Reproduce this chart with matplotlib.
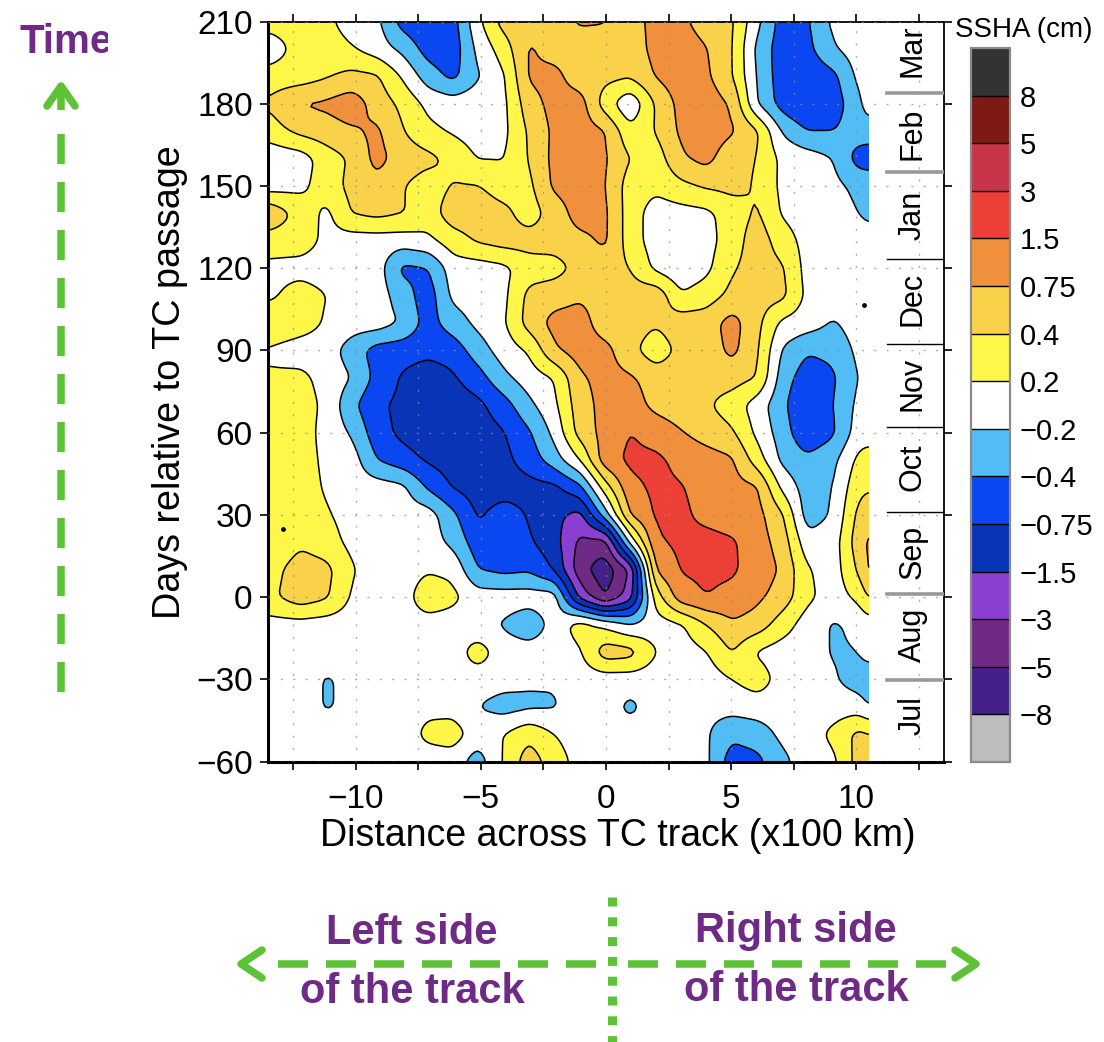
import numpy as np
import matplotlib
matplotlib.use("Agg")
import matplotlib.pyplot as plt
from matplotlib.lines import Line2D
from matplotlib.transforms import Bbox

plt.rcParams['font.family'] = ['Liberation Sans', 'DejaVu Sans']

W, H = 1104, 1042

levels = [-8, -5, -3, -1.5, -0.75, -0.4, -0.2, 0.2, 0.4, 0.75, 1.5, 3, 5, 8]
level_labels = ['\u22128', '\u22125', '\u22123', '\u22121.5', '\u22120.75', '\u22120.4', '\u22120.2',
                '0.2', '0.4', '0.75', '1.5', '3', '5', '8']
colors = ['#BDBDBD', '#44208A', '#6F2A85', '#8A3FD0', '#0A34B8', '#0A47F0', '#52BCF5', '#FFFFFF',
          '#FFF64A', '#FAD24A', '#F08F3C', '#EC3F35', '#C8344A', '#7E1A14', '#333333']

dist = [-13.5, -12.2, -11.16, -10.16, -9.16, -8.12, -7.12, -6.12, -5.12, -4.08, -3.08, -2.08, -1.04,
        -0.04, 0.96, 2, 3, 4, 5.04, 6.04, 7.04, 8.04, 9.08, 10.08, 10.5]
days = [210, 200, 190, 180, 170, 160, 150, 140, 130, 120, 110, 100, 90, 80, 70, 60, 50, 40, 30, 20, 10,
        0, -10, -20, -30, -40, -50, -60]

ssha = [
    [.3, .3, .25, 0, -.1, -.55, -.7, -.55, .1, .55, .6, .6, .85, .8, .6, 1.0, .9, .6, .45, -.1, -.55, -.45, -.1, 0, 0],
    [-.1, .3, .3, .22, 0, -.25, -.55, -.6, -.1, .3, .85, .6, .55, .55, .55, 1.0, 1.1, .8, .42, -.25, -.6, -.5, -.22, 0, 0],
    [.3, .3, .38, .5, .45, .15, -.3, -.5, -.22, .15, .85, 1.0, .55, .5, .45, .8, 1.2, .9, .42, -.22, -.6, -.65, -.5, -.1, 0],
    [.45, .8, .9, 1.2, .6, .35, .1, 0, .05, .1, .6, 1.0, 1.1, .3, -.15, .45, 1.0, 1.2, .7, -.2, -.55, -.8, -.6, -.25, 0],
    [.3, .5, .6, .7, .9, .42, .25, .15, 0, .1, .45, .9, 1.1, .8, .25, .42, .9, 1.2, .85, .45, -.22, -.4, -.4, -.3, -.3],
    [-.1, 0, .3, .45, 1.0, .6, .5, .35, .18, .18, .42, .95, 1.1, .85, .4, .3, .7, 1.0, .5, .4, .1, 0, -.2, -.55, -.6],
    [0, .1, .3, .5, .65, .42, .3, .42, .42, .3, .35, .9, 1.1, .8, .3, .25, .35, .45, .5, .38, .1, 0, -.1, -.25, -.25],
    [.7, .32, .1, .42, .5, .42, .3, .6, .6, .5, .3, .55, 1.1, .9, .3, 0, .05, .1, .3, .45, .15, 0, 0, -.2, -.25],
    [.3, .3, .1, 0, 0, 0, .1, .3, .45, .55, .55, .55, .65, .9, .3, 0, -.05, .05, .3, .6, .3, .05, 0, 0, 0],
    [.1, .05, 0, 0, 0, -.5, -.42, 0, 0, .1, .3, .32, .5, .55, .4, .1, -.1, .1, .38, .55, .45, .05, 0, 0, 0],
    [.1, .3, .2, 0, 0, -.3, -.6, -.1, 0, .1, .5, .6, .7, .6, .55, .65, .22, .3, .5, .55, .5, .1, 0, 0, 0],
    [.38, .3, .15, 0, 0, -.22, -.55, -.3, -.1, .15, .55, 1.0, 1.1, .55, .55, .44, .6, .6, 1.05, .5, .1, 0, -.22, 0, 0],
    [.15, 0, 0, -.3, -.55, -.6, -.65, -.6, -.3, 0, .22, .7, 1.1, 1.0, .5, .28, .5, .55, .95, .45, -.22, -.38, -.35, -.1, 0],
    [.22, .25, .05, -.2, -.5, -.85, -1.2, -.85, -.55, -.25, 0, .2, .7, 1.0, .85, .6, .6, .55, .55, .4, -.3, -.6, -.45, -.2, 0],
    [.22, .3, .1, -.35, -.7, -.9, -1.2, -1.15, -.95, -.55, -.25, .1, .6, 1.0, 1.1, .65, .55, .45, .3, 0, -.35, -.8, -.4, -.1, 0],
    [.2, .3, .05, -.22, -.6, -.95, -1.2, -1.2, -1.1, -.8, -.45, -.1, .55, 1.0, 1.55, 1.2, .8, .6, .45, .1, -.3, -.7, -.45, 0, 0],
    [.3, .3, .1, 0, -.4, -.6, -.85, -1.1, -1.2, -.95, -.6, -.3, .2, 1.2, 1.8, 1.8, 1.3, 1.1, .85, .3, -.25, -.35, -.25, .25, .3],
    [.3, .3, .15, 0, 0, -.1, -.45, -.8, -1.1, -1.05, -1, -.95, -.5, .3, 1.3, 1.8, 1.6, 1.2, 1.0, .85, .1, -.3, -.2, .35, .38],
    [.42, .3, .22, .05, 0, 0, 0, -.35, -.85, -.6, -.8, -1.3, -2, -.3, .8, 1.7, 1.8, 1.3, 1.1, 1.0, .45, -.3, -.15, .5, .6],
    [.2, .36, .28, .1, 0, 0, 0, -.25, -.6, -.7, -.7, -1.2, -3.5, -3.8, -.1, 1.4, 1.8, 2.0, 1.7, 1.1, .6, -.05, 0, .6, .9],
    [.3, .6, .5, .22, 0, 0, .15, .1, -.4, -.5, -.45, -.8, -4.3, -7, -3, .85, 1.6, 1.8, 1.7, 1.2, .7, .22, 0, .45, .9],
    [.35, .6, .45, .15, 0, 0, .35, .25, 0, 0, 0, 0, -2, -5.2, -2.2, .3, 1.2, 1.5, 1.3, .9, .6, .25, 0, .25, .45],
    [.05, .05, 0, 0, 0, 0, 0, 0, -.1, -.22, -.35, -.05, .3, .1, -.2, 0, .15, .4, .7, .6, .3, 0, -.22, -.12, 0],
    [0, 0, 0, 0, 0, 0, 0, 0, .3, 0, 0, 0, .15, .6, .55, .2, 0, .18, .42, .15, 0, 0, -.22, -.2, 0],
    [0, 0, -.22, -.1, 0, 0, 0, 0, 0, -.05, -.14, -.16, 0, 0, 0, 0, 0, 0, .2, .3, .05, 0, -.15, -.3, -.35],
    [0, 0, -.22, -.1, 0, 0, .1, .05, -.2, -.28, -.24, -.22, 0, 0, -.25, 0, 0, -.1, -.05, 0, 0, 0, 0, 0, -.2],
    [0, 0, 0, 0, 0, 0, .25, .3, 0, .2, .35, .2, 0, 0, 0, 0, 0, -.15, -.35, -.3, -.1, 0, .25, .5, .42],
    [0, 0, 0, 0, 0, 0, 0, 0, -.3, .22, .6, .3, .05, 0, 0, 0, 0, -.1, -.6, -.5, -.25, 0, .1, .55, .45],
]

months = ['Mar', 'Feb', 'Jan', 'Dec', 'Nov', 'Oct', 'Sep', 'Aug', 'Jul']
month_mid = [199.4, 169, 139.4, 108.7, 77.6, 47.2, 16.5, -13.9, -43.2]
month_edges = [184, 155, 123.5, 92.5, 62, 31, 1, -30.4]
month_edge_gray = [True, True, False, False, False, False, True, True]

speck_x = [10.3, -12.9]
speck_y = [106.5, 25]


def px(x, y):
    return x / W, 1 - y / H


def green(xs, ys, lw=7.5, dashes=None, cap='butt'):
    f = [px(a, b) for a, b in zip(xs, ys)]
    line = Line2D([p[0] for p in f], [p[1] for p in f], transform=fig.transFigure, color='#5DC235',
                  lw=lw * 0.72, solid_capstyle=cap, dash_capstyle='butt')
    if dashes:
        line.set_dashes(dashes)
    fig.add_artist(line)


# contour in level-index space, on a finer mesh, so the lines stay round
z = np.array(ssha, dtype=float)
idx = np.interp(z, [-12] + levels + [12], np.arange(-1, 15))
x_fine = np.linspace(dist[0], dist[-1], 190)
y_fine = np.linspace(days[-1], days[0], 218)
days_up = np.array(days[::-1], dtype=float)
tmp = np.array([np.interp(y_fine, days_up, col) for col in idx[::-1].T]).T
fine = np.array([np.interp(x_fine, dist, row) for row in tmp])
kernel = np.ones(3) / 3
for n in range(2):
    for axis in (0, 1):
        pad = np.pad(fine, [(1, 1) if a == axis else (0, 0) for a in (0, 1)], mode='edge')
        fine = np.apply_along_axis(lambda m: np.convolve(m, kernel, mode='valid'), axis, pad)

fig = plt.figure(figsize=(W / 100, H / 100), dpi=100)
ax = fig.add_axes([268 / W, 1 - 761.5 / H, (944 - 268) / W, (761.5 - 21.5) / H])

cf = ax.contourf(x_fine, y_fine, fine, levels=np.arange(14), colors=colors, extend='both')
ax.contour(x_fine, y_fine, fine, levels=np.arange(14), colors='black', linewidths=1.1)
ax.scatter(speck_x, speck_y, s=6, color='black', zorder=4)

ax.set_xlim(-13.5, 13.5)
ax.set_ylim(-60, 210)
ax.set_xticks([-10, -5, 0, 5, 10])
ax.set_xticks([-12.5, -7.5, -2.5, 2.5, 7.5, 12.5], minor=True)
ax.set_yticks(np.arange(-60, 211, 30))
ax.tick_params(axis='both', which='both', direction='out', length=6, width=1.2, labelsize=24, top=True, right=True)
ax.tick_params(axis='x', pad=10)
ax.tick_params(axis='y', pad=5)
ax.grid(which='both', color='#8c8c8c', lw=1.0, alpha=0.7, linestyle=(0, (1.5, 7.4)))
ax.set_axisbelow(False)
for name, lw in [('left', 2.2), ('bottom', 2.2), ('top', 1.3), ('right', 1.3)]:
    ax.spines[name].set_linewidth(lw)
ax.set_xlabel('Distance across TC track (x100 km)', fontsize=27, x=0.518, labelpad=2)
ax.set_ylabel('Days relative to TC passage', fontsize=27.2, y=0.512, labelpad=6)

for name, mid in zip(months, month_mid):
    ax.text(12.24, mid, name, rotation=90, ha='center', va='center', fontsize=22)
for edge, gray in zip(month_edges, month_edge_gray):
    ax.plot([11.24, 13.5], [edge, edge], color='#999999' if gray else 'black', lw=2.6 if gray else 1.0, zorder=3)

# colour bar
cax = fig.add_axes([971 / W, 1 - 762 / H, 39 / W, 714 / H])
cb = fig.colorbar(cf, cax=cax, spacing='uniform', extendrect=True, extendfrac=1 / 13, drawedges=True)
cb.dividers.set_color('black')
cb.dividers.set_linewidth(1.0)
cb.outline.set_edgecolor('#8a8a8a')
cb.outline.set_linewidth(1.6)
cb.set_ticks(np.arange(14), labels=level_labels)
cax.tick_params(length=0, pad=7, labelsize=21)
fig.text(*px(1024, 30), 'SSHA (cm)', fontsize=20, ha='center', va='center')

# annotations around the figure
purple = '#6F2A85'
t = fig.text(*px(20, 42), 'Time', fontsize=29, fontweight='bold', color=purple, ha='left', va='center')
t.set_clip_box(Bbox([[0, 0], [108, H]]))
t.set_clip_on(True)
fig.text(*px(412, 933), 'Left side', fontsize=30, fontweight='bold', color=purple, ha='center', va='center')
fig.text(*px(412, 992), 'of the track', fontsize=30, fontweight='bold', color=purple, ha='center', va='center')
fig.text(*px(796, 931), 'Right side', fontsize=30, fontweight='bold', color=purple, ha='center', va='center')
fig.text(*px(796, 990), 'of the track', fontsize=30, fontweight='bold', color=purple, ha='center', va='center')

green([61, 61], [692, 118], dashes=(4, 2.4))
green([47, 61, 75], [106, 86, 106], cap='round')
green([61, 61], [110, 86])
green([612, 612], [897, 1042], lw=9, dashes=(1.0, 1.2))
green([596, 270], [964, 964], dashes=(4, 2.4))
green([628, 950], [964, 964], dashes=(4, 2.4))
green([262, 241, 262], [950, 964, 978], cap='round')
green([955, 976, 955], [950, 964, 978], cap='round')

fig.savefig('out.png', dpi=100)
